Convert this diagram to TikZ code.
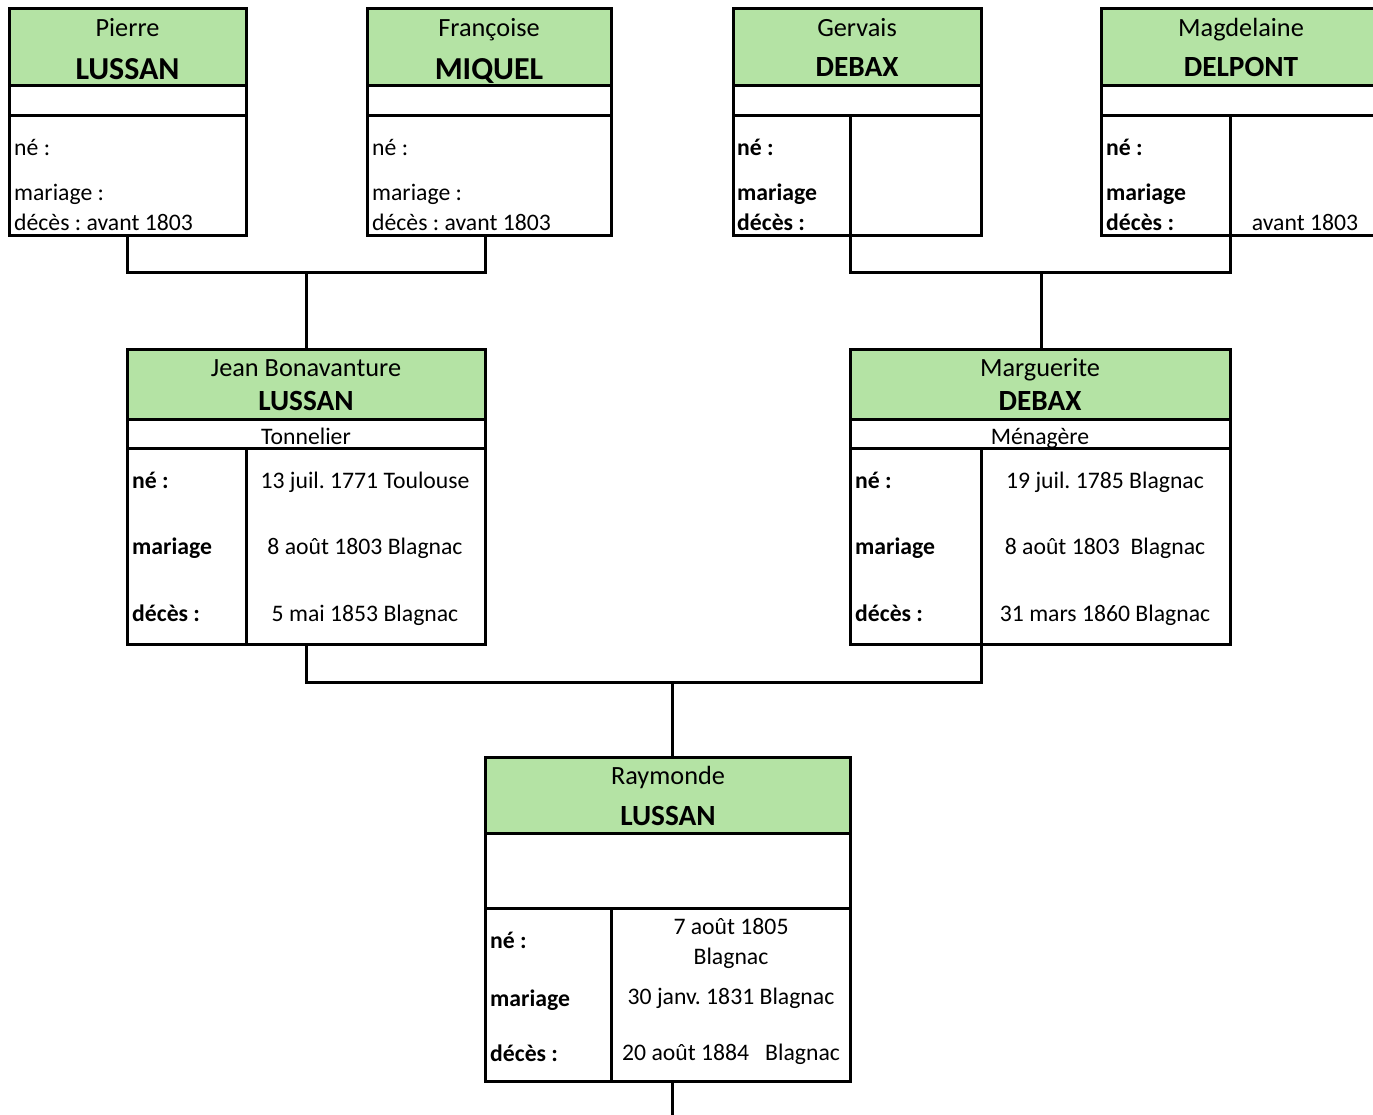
\documentclass[tikz,border=0pt]{standalone}
\usepackage{fontspec}
\setmainfont{Carlito}
\frenchspacing
\definecolor{hdrgreen}{RGB}{180,227,164}
\newcommand{\fbody}{\fontsize{23.7}{28}\selectfont}
\newcommand{\ffirst}{\fontsize{26.3}{31}\selectfont}
\newcommand{\fnameA}{\fontsize{32}{38}\selectfont\bfseries}
\newcommand{\fnameB}{\fontsize{29.3}{35}\selectfont\bfseries}
\begin{document}
\begin{tikzpicture}[x=1pt,y=-1pt,
  ln/.style={line width=3pt, line cap=rect},
  hdr/.style={fill=hdrgreen, draw=black, line width=3pt},
  outline/.style={draw=black, line width=3pt, fill=white},
  txt/.style={inner sep=0pt, anchor=base, font=\fbody},
  txtl/.style={inner sep=0pt, anchor=base west, font=\fbody},
  txtlb/.style={inner sep=0pt, anchor=base west, font=\fbody\bfseries},
  first/.style={inner sep=0pt, anchor=base, font=\ffirst},
  nameA/.style={inner sep=0pt, anchor=base, font=\fnameA},
  nameB/.style={inner sep=0pt, anchor=base, font=\fnameB}]
\useasboundingbox (0,0) rectangle (1373,1115);
\clip (0,0) rectangle (1373,1115);

% ---------- connectors ----------
\coordinate (pB) at (127,236);
\coordinate (fB) at (485,236);
\coordinate (gB) at (850,236);
\coordinate (mB) at (1230,236);
\coordinate (jT) at (306,349);
\coordinate (mgT) at (1041,349);
\coordinate (jB) at (306,644);
\coordinate (mgB) at (981,644);
\coordinate (rT) at (672,757);
\coordinate (rB) at (672,1081);
\coordinate (rEnd) at (672,1115);
\draw[ln] (pB) |- (306,273) -| (fB);
\draw[ln] (306,273) -- (jT);
\draw[ln] (gB) |- (1041,273) -| (mB);
\draw[ln] (1041,273) -- (mgT);
\draw[ln] (jB) |- (672,682) -| (mgB);
\draw[ln] (672,682) -- (rT);
\draw[ln] (rB) -- (rEnd);

% ---------- Pierre ----------
\draw[outline] (9,9) rectangle (246,236);
\draw[hdr] (9,9) rectangle (246,86);
\draw[ln] (9,116) -- (246,116);
\node[first] (pierreF) at (127.5,37) {Pierre};
\node[nameA] (pierreN) at (127.5,80) {LUSSAN};
\node[txtl] (pierreNe) at (14,156) {né :};
\node[txtl] (pierreMa) at (14,201) {mariage :};
\node[txtl] (pierreDe) at (14,231) {décès : avant 1803};

% ---------- Françoise ----------
\draw[outline] (367,9) rectangle (611,236);
\draw[hdr] (367,9) rectangle (611,86);
\draw[ln] (367,116) -- (611,116);
\node[first] (franF) at (489,37) {Françoise};
\node[nameA] (franN) at (489,80) {MIQUEL};
\node[txtl] (franNe) at (372,156) {né :};
\node[txtl] (franMa) at (372,201) {mariage :};
\node[txtl] (franDe) at (372,231) {décès : avant 1803};

% ---------- Gervais ----------
\draw[outline] (733,9) rectangle (981,236);
\draw[hdr] (733,9) rectangle (981,86);
\draw[ln] (733,116) -- (981,116);
\draw[ln] (850,116) -- (850,236);
\node[first] (gervF) at (857,37) {Gervais};
\node[nameB] (gervN) at (857,77) {DEBAX};
\node[txtlb] (gervNe) at (737,156) {né :};
\node[txtlb] (gervMa) at (737,201) {mariage};
\node[txtlb] (gervDe) at (737,231) {décès :};

% ---------- Magdelaine ----------
\draw[outline] (1101,9) rectangle (1390,236);
\draw[hdr] (1101,9) rectangle (1390,86);
\draw[ln] (1101,116) -- (1390,116);
\draw[ln] (1230,116) -- (1230,236);
\node[first] (magF) at (1241,37) {Magdelaine};
\node[nameB] (magN) at (1241,77) {DELPONT};
\node[txtlb] (magNe) at (1106,156) {né :};
\node[txtlb] (magMa) at (1106,201) {mariage};
\node[txtlb] (magDe) at (1106,231) {décès :};
\node[txt] (magDv) at (1305,231) {avant 1803};

% ---------- Jean Bonavanture ----------
\draw[outline] (127,349) rectangle (485,644);
\draw[hdr] (127,349) rectangle (485,419);
\draw[ln] (127,448) -- (485,448);
\draw[ln] (246,448) -- (246,644);
\node[first] (jeanF) at (306,376) {Jean Bonavanture};
\node[nameB] (jeanN) at (306,410) {LUSSAN};
\node[txt] (jeanP) at (306,444) {Tonnelier};
\node[txtlb] (jeanNe) at (132,488) {né :};
\node[txtlb] (jeanMa) at (132,554) {mariage};
\node[txtlb] (jeanDe) at (132,621) {décès :};
\node[txt] (jeanNv) at (365,488) {13 juil. 1771 Toulouse};
\node[txt] (jeanMv) at (365,554) {8 août 1803 Blagnac};
\node[txt] (jeanDv) at (365,621) {5 mai 1853 Blagnac};

% ---------- Marguerite ----------
\draw[outline] (850,349) rectangle (1230,644);
\draw[hdr] (850,349) rectangle (1230,419);
\draw[ln] (850,448) -- (1230,448);
\draw[ln] (981,448) -- (981,644);
\node[first] (margF) at (1040,376) {Marguerite};
\node[nameB] (margN) at (1040,410) {DEBAX};
\node[txt] (margP) at (1040,444) {Ménagère};
\node[txtlb] (margNe) at (855,488) {né :};
\node[txtlb] (margMa) at (855,554) {mariage};
\node[txtlb] (margDe) at (855,621) {décès :};
\node[txt] (margNv) at (1105,488) {19 juil. 1785 Blagnac};
\node[txt] (margMv) at (1105,554) {8 août 1803\ \ Blagnac};
\node[txt] (margDv) at (1105,621) {31 mars 1860 Blagnac};

% ---------- Raymonde ----------
\draw[outline] (485,757) rectangle (850,1081);
\draw[hdr] (485,757) rectangle (850,833);
\draw[ln] (485,908) -- (850,908);
\draw[ln] (611,908) -- (611,1081);
\node[first] (rayF) at (668,784) {Raymonde};
\node[nameB] (rayN) at (668,825) {LUSSAN};
\node[txtlb] (rayNe) at (490,948) {né :};
\node[txtlb] (rayMa) at (490,1006) {mariage};
\node[txtlb] (rayDe) at (490,1061) {décès :};
\node[txt] (rayNv) at (731,934) {7 août 1805};
\node[txt] (rayNv2) at (731,964) {Blagnac};
\node[txt] (rayMv) at (731,1004) {30 janv. 1831 Blagnac};
\node[txt] (rayDv) at (731,1060) {20 août 1884\ \ \ Blagnac};
\end{tikzpicture}
\end{document}
